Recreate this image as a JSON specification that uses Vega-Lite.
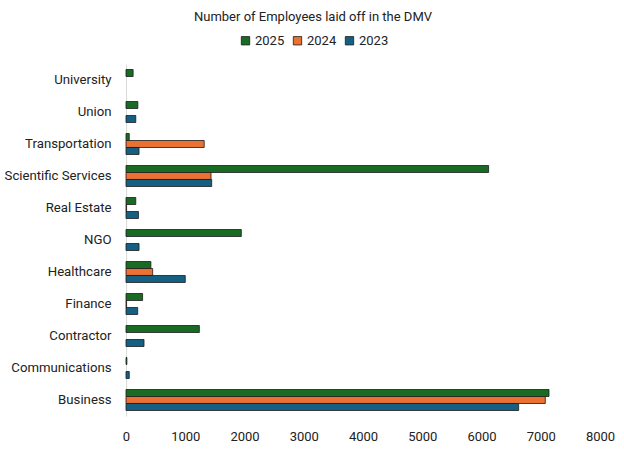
{
  "$schema": "https://vega.github.io/schema/vega-lite/v6.json",
  "autosize": "none",
  "width": 474,
  "height": 352,
  "padding": {"left": 126, "top": 64, "right": 24, "bottom": 34},
  "background": "white",
  "title": {"text": "Number of Employees laid off in the DMV", "anchor": "middle", "dx": -50, "offset": 10, "fontSize": 13, "fontWeight": "normal", "color": "#222", "font": "Roboto"},
  "data": {"values": [
    {"category": "University", "year": "2025", "value": 120},
    {"category": "Union", "year": "2025", "value": 200},
    {"category": "Union", "year": "2023", "value": 165},
    {"category": "Transportation", "year": "2025", "value": 55},
    {"category": "Transportation", "year": "2024", "value": 1320},
    {"category": "Transportation", "year": "2023", "value": 220},
    {"category": "Scientific Services", "year": "2025", "value": 6120},
    {"category": "Scientific Services", "year": "2024", "value": 1435},
    {"category": "Scientific Services", "year": "2023", "value": 1446},
    {"category": "Real Estate", "year": "2025", "value": 165},
    {"category": "Real Estate", "year": "2024", "value": 10},
    {"category": "Real Estate", "year": "2023", "value": 210},
    {"category": "NGO", "year": "2025", "value": 1946},
    {"category": "NGO", "year": "2023", "value": 220},
    {"category": "Healthcare", "year": "2025", "value": 420},
    {"category": "Healthcare", "year": "2024", "value": 450},
    {"category": "Healthcare", "year": "2023", "value": 1000},
    {"category": "Finance", "year": "2025", "value": 280},
    {"category": "Finance", "year": "2024", "value": 10},
    {"category": "Finance", "year": "2023", "value": 197},
    {"category": "Contractor", "year": "2025", "value": 1238},
    {"category": "Contractor", "year": "2023", "value": 304},
    {"category": "Communications", "year": "2025", "value": 15},
    {"category": "Communications", "year": "2023", "value": 55},
    {"category": "Business", "year": "2025", "value": 7139},
    {"category": "Business", "year": "2024", "value": 7077},
    {"category": "Business", "year": "2023", "value": 6627}
  ]},
  "mark": {"type": "bar", "stroke": "#1a1a1a", "strokeWidth": 0.8},
  "encoding": {
    "y": {
      "field": "category", "type": "nominal",
      "sort": ["University", "Union", "Transportation", "Scientific Services", "Real Estate", "NGO", "Healthcare", "Finance", "Contractor", "Communications", "Business"],
      "scale": {"paddingInner": 0.344, "paddingOuter": 0.172},
      "axis": {"title": null, "ticks": false, "labelPadding": 15, "labelFontSize": 13.2, "labelColor": "#222", "labelFont": "Roboto", "domainColor": "#d9d9d9", "grid": false}
    },
    "yOffset": {"field": "year", "type": "nominal", "sort": ["2025", "2024", "2023"], "scale": {"domain": ["2025", "2024", "2023"]}},
    "x": {
      "field": "value", "type": "quantitative",
      "scale": {"domain": [0, 8000], "nice": false},
      "axis": {"title": null, "values": [0, 1000, 2000, 3000, 4000, 5000, 6000, 7000, 8000], "format": "d", "grid": false, "domain": false, "ticks": false, "labelPadding": 14, "labelFontSize": 13, "labelColor": "#222", "labelFont": "Roboto", "labelFlush": false}
    },
    "color": {
      "field": "year", "type": "nominal",
      "scale": {"domain": ["2025", "2024", "2023"], "range": ["#196B24", "#E97132", "#156082"]},
      "legend": {"title": null, "orient": "none", "direction": "horizontal", "legendX": 113, "legendY": -30, "symbolType": "square", "symbolSize": 70, "symbolStrokeColor": "#1a1a1a", "symbolStrokeWidth": 0.8, "labelFontSize": 13, "labelColor": "#222", "labelFont": "Roboto", "columnPadding": 6, "labelOffset": 3}
    }
  },
  "config": {"view": {"stroke": null}}
}
